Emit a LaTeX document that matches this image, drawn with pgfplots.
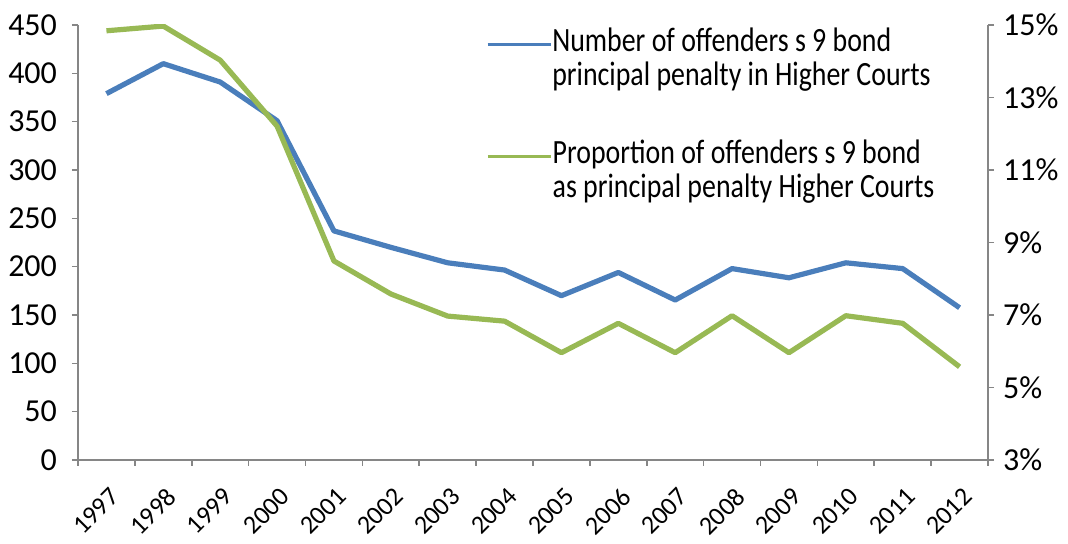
\documentclass[border=0pt]{standalone}
\usepackage{pgfplots}
\pgfplotsset{compat=1.18}
\usepackage{fontspec}
\setmainfont{Carlito}
\newfontfamily\legfont[FakeStretch=0.82]{Carlito}
\definecolor{blueline}{HTML}{4A7EBB}
\definecolor{greenline}{HTML}{98B954}
\definecolor{axgray}{HTML}{868686}
\begin{document}
\begin{tikzpicture}
\pgfplotsset{
  every axis/.append style={
    scale only axis, width=455pt, height=217.5pt,
    xmin=-0.5, xmax=15.5,
    tick align=outside,
    major tick length=3pt,
    axis line style={axgray, line width=1pt},
    every tick/.style={axgray, line width=0.8pt},
    /pgf/number format/assume math mode=true,
    tick label style={font=\fontsize{16}{19}\selectfont},
    legend style={draw=none, fill=none, anchor=north west, inner sep=0pt,
      font=\legfont\fontsize{17}{20}\selectfont,
      nodes={inner sep=0pt, text height=12pt, text depth=5pt, anchor=west},
      row sep=0pt, column sep=0pt},
    legend cell align=left,
    legend image code/.code={\draw[#1] (0pt,0pt) -- (31.5pt,0pt);},
  }
}
\begin{axis}[name=ax,
  axis x line*=bottom, axis y line*=left,
  ymin=0, ymax=450, ytick={0,50,...,450},
  xtick={-0.5,0.5,...,15.5}, xticklabels={},
  extra x ticks={0,...,15},
  extra x tick labels={1997,1998,1999,2000,2001,2002,2003,2004,2005,2006,2007,2008,2009,2010,2011,2012},
  extra x tick style={major tick length=0pt, tick label style={font=\fontsize{13}{16}\selectfont, xshift=1pt, yshift=-13pt, rotate=45, anchor=north east, inner sep=0pt}},
  yticklabel style={xshift=-4pt},
  legend style={at={(0.448,0.995)}},
]
\addplot[blueline, line width=2.6pt, line join=round, forget plot] coordinates {
(0,379) (1,410) (2,391) (3,351) (4,237) (5,220) (6,204) (7,196.5) (8,170) (9,194) (10,165.5) (11,198) (12,188.5) (13,204) (14,198) (15,157.5)};
\addlegendimage{blueline, line width=1.6pt}
\addlegendentry{Number of offenders s 9 bond}
\addlegendimage{empty legend}
\addlegendentry{principal penalty in Higher Courts}
\end{axis}
\begin{axis}[
  axis x line=none, axis y line*=right,
  ymin=3, ymax=15, ytick={3,5,...,15},
  yticklabel={\pgfmathprintnumber{\tick}\%},
  yticklabel style={xshift=1pt},
  legend style={at={(0.448,0.738)}},
]
\addplot[greenline, line width=2.6pt, line join=round, forget plot] coordinates {
(0,14.84) (1,14.97) (2,14.03) (3,12.21) (4,8.49) (5,7.58) (6,6.97) (7,6.83) (8,5.96) (9,6.77) (10,5.96) (11,6.98) (12,5.96) (13,6.98) (14,6.77) (15,5.57)};
\addlegendimage{greenline, line width=1.8pt}
\addlegendentry{Proportion of offenders s 9 bond}
\addlegendimage{empty legend}
\addlegendentry{as principal penalty Higher Courts}
\end{axis}
\pgfresetboundingbox
\path[use as bounding box] ([xshift=-39pt,yshift=-42pt]ax.south west) rectangle ([xshift=40pt,yshift=12.5pt]ax.north east);
\end{tikzpicture}
\end{document}
